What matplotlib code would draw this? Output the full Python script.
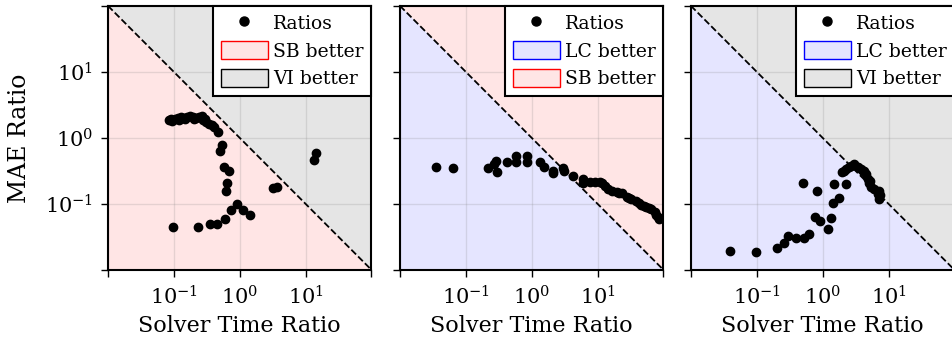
import numpy as np
import matplotlib
matplotlib.use("Agg")
import matplotlib.pyplot as plt
from matplotlib.patches import Patch
from matplotlib.lines import Line2D

plt.rcParams.update({
    "font.family": "DejaVu Serif",
    "mathtext.fontset": "dejavuserif",
})

# SB vs VI
time_sb_vi = [0.084, 0.093, 0.104, 0.115, 0.128, 0.142, 0.157, 0.175, 0.194, 0.215,
              0.239, 0.265, 0.275, 0.305, 0.339, 0.377, 0.404, 0.465, 0.547, 0.498,
              0.578, 0.689, 0.652, 0.614, 0.0975, 0.229, 0.351, 0.459, 0.593, 0.748,
              0.910, 1.12, 1.45, 3.20, 3.67, 13.2, 14.5,
              0.090, 0.120, 0.150, 0.200, 0.300]
mae_sb_vi = [1.88, 1.81, 1.94, 2.01, 2.08, 2.01, 2.08, 2.15, 2.08, 2.01,
             2.08, 2.15, 1.87, 1.75, 1.63, 1.57, 1.47, 1.23, 0.78, 0.63,
             0.367, 0.313, 0.208, 0.156, 0.0453, 0.0453, 0.0498, 0.0498, 0.0593, 0.0811,
             0.100, 0.0811, 0.068, 0.175, 0.183, 0.465, 0.586,
             1.95, 1.85, 1.95, 1.90, 1.95]

# LC vs SB
time_lc_sb = [0.0351, 0.0635, 0.218, 0.265, 0.285, 0.292, 0.426, 0.586, 0.586, 0.855,
              0.855, 1.35, 1.52, 2.10, 2.10, 3.0, 3.09, 4.22, 5.93, 6.07,
              7.57, 9.0, 10.7, 12.8, 14.3, 16.7, 19.6, 23.7, 27.8, 32.4,
              38.6, 45.9, 54.7, 65.1, 73.1, 82.0, 86.9,
              11.5, 21.0, 30.0, 42.0, 50.0, 60.0, 78.0]
mae_lc_sb = [0.364, 0.347, 0.347, 0.404, 0.453, 0.308, 0.433, 0.534, 0.428, 0.528,
             0.428, 0.433, 0.357, 0.320, 0.295, 0.351, 0.320, 0.266, 0.235, 0.208,
             0.213, 0.213, 0.213, 0.189, 0.169, 0.156, 0.150, 0.145, 0.126, 0.119,
             0.110, 0.0966, 0.0891, 0.0840, 0.0749, 0.0629, 0.0593,
             0.205, 0.148, 0.122, 0.104, 0.093, 0.086, 0.068]

# LC vs VI
time_lc_vi = [0.0393, 0.0973, 0.201, 0.263, 0.295, 0.395, 0.514, 0.614, 0.498, 0.817,
              0.767, 0.914, 1.19, 1.34, 1.42, 1.75, 1.50, 2.23, 1.95, 2.29,
              2.72, 3.02, 3.41, 4.04, 4.51, 4.81, 5.10, 5.47, 6.07, 7.23,
              7.41, 7.16,
              2.10, 2.50, 3.80, 4.30, 5.30, 6.80]
mae_lc_vi = [0.0196, 0.0187, 0.0213, 0.0257, 0.0331, 0.0302, 0.0302, 0.0345, 0.208, 0.156,
             0.0629, 0.0558, 0.0418, 0.0614, 0.104, 0.122, 0.201, 0.201, 0.308, 0.339,
             0.380, 0.404, 0.357, 0.320, 0.285, 0.239, 0.208, 0.181, 0.166, 0.157,
             0.134, 0.117,
             0.320, 0.360, 0.340, 0.310, 0.220, 0.140]

panels = [
    (time_sb_vi, mae_sb_vi, ("SB better", "red"), ("VI better", "black")),
    (time_lc_sb, mae_lc_sb, ("LC better", "blue"), ("SB better", "red")),
    (time_lc_vi, mae_lc_vi, ("LC better", "blue"), ("VI better", "black")),
]

lims = (1e-2, 1e2)
ticks = [1e-2, 1e-1, 1e0, 1e1, 1e2]
ticklabels = ["", r"$10^{-1}$", r"$10^{0}$", r"$10^{1}$", ""]

fig = plt.figure(figsize=(9.53, 3.46), dpi=100)
lefts = [0.1133, 0.4197, 0.725]

for i, (tx, my, below, above) in enumerate(panels):
    ax = fig.add_axes([lefts[i], 0.22, 0.2765, 0.763])
    ax.set_xscale("log")
    ax.set_yscale("log")
    ax.set_xlim(lims)
    ax.set_ylim(lims)

    # shaded "who wins" regions split by the y = 1/x diagonal
    xs = np.logspace(-2, 2, 50)
    ax.fill_between(xs, lims[0], 1 / xs, color=below[1], alpha=0.1, linewidth=0)
    ax.fill_between(xs, 1 / xs, lims[1], color=above[1], alpha=0.1, linewidth=0)
    ax.plot(xs, 1 / xs, color="black", linestyle="--", linewidth=1.3)

    ax.plot(tx, my, "o", color="black", markersize=6, linestyle="none")

    ax.set_xticks(ticks)
    ax.set_xticklabels(ticklabels)
    ax.set_yticks(ticks)
    if i == 0:
        ax.set_yticklabels(ticklabels)
        ax.set_ylabel("MAE Ratio", fontsize=17, labelpad=10)
    else:
        ax.set_yticklabels([])
    ax.minorticks_off()
    ax.tick_params(direction="out", length=5, width=1, labelsize=15, pad=6)
    ax.set_xlabel("Solver Time Ratio", fontsize=16, labelpad=5)
    ax.grid(True, color="gray", alpha=0.2, linewidth=1)
    for s in ax.spines.values():
        s.set_linewidth(1.5)

    handles = [
        Line2D([], [], marker="o", color="black", linestyle="none", markersize=6.5),
        Patch(facecolor=matplotlib.colors.to_rgba(below[1], 0.1),
              edgecolor=below[1], linewidth=1),
        Patch(facecolor=matplotlib.colors.to_rgba(above[1], 0.1),
              edgecolor=above[1], linewidth=1),
    ]
    leg = ax.legend(handles, ["Ratios", below[0], above[0]], loc="upper right",
                    borderaxespad=0, fancybox=False, framealpha=1,
                    edgecolor="black", fontsize=13.5, handlelength=2.5,
                    handleheight=1.1, labelspacing=0.45, handletextpad=0.3,
                    borderpad=0.4)
    leg.get_frame().set_linewidth(1.5)

plt.savefig("out.png", dpi=100)
